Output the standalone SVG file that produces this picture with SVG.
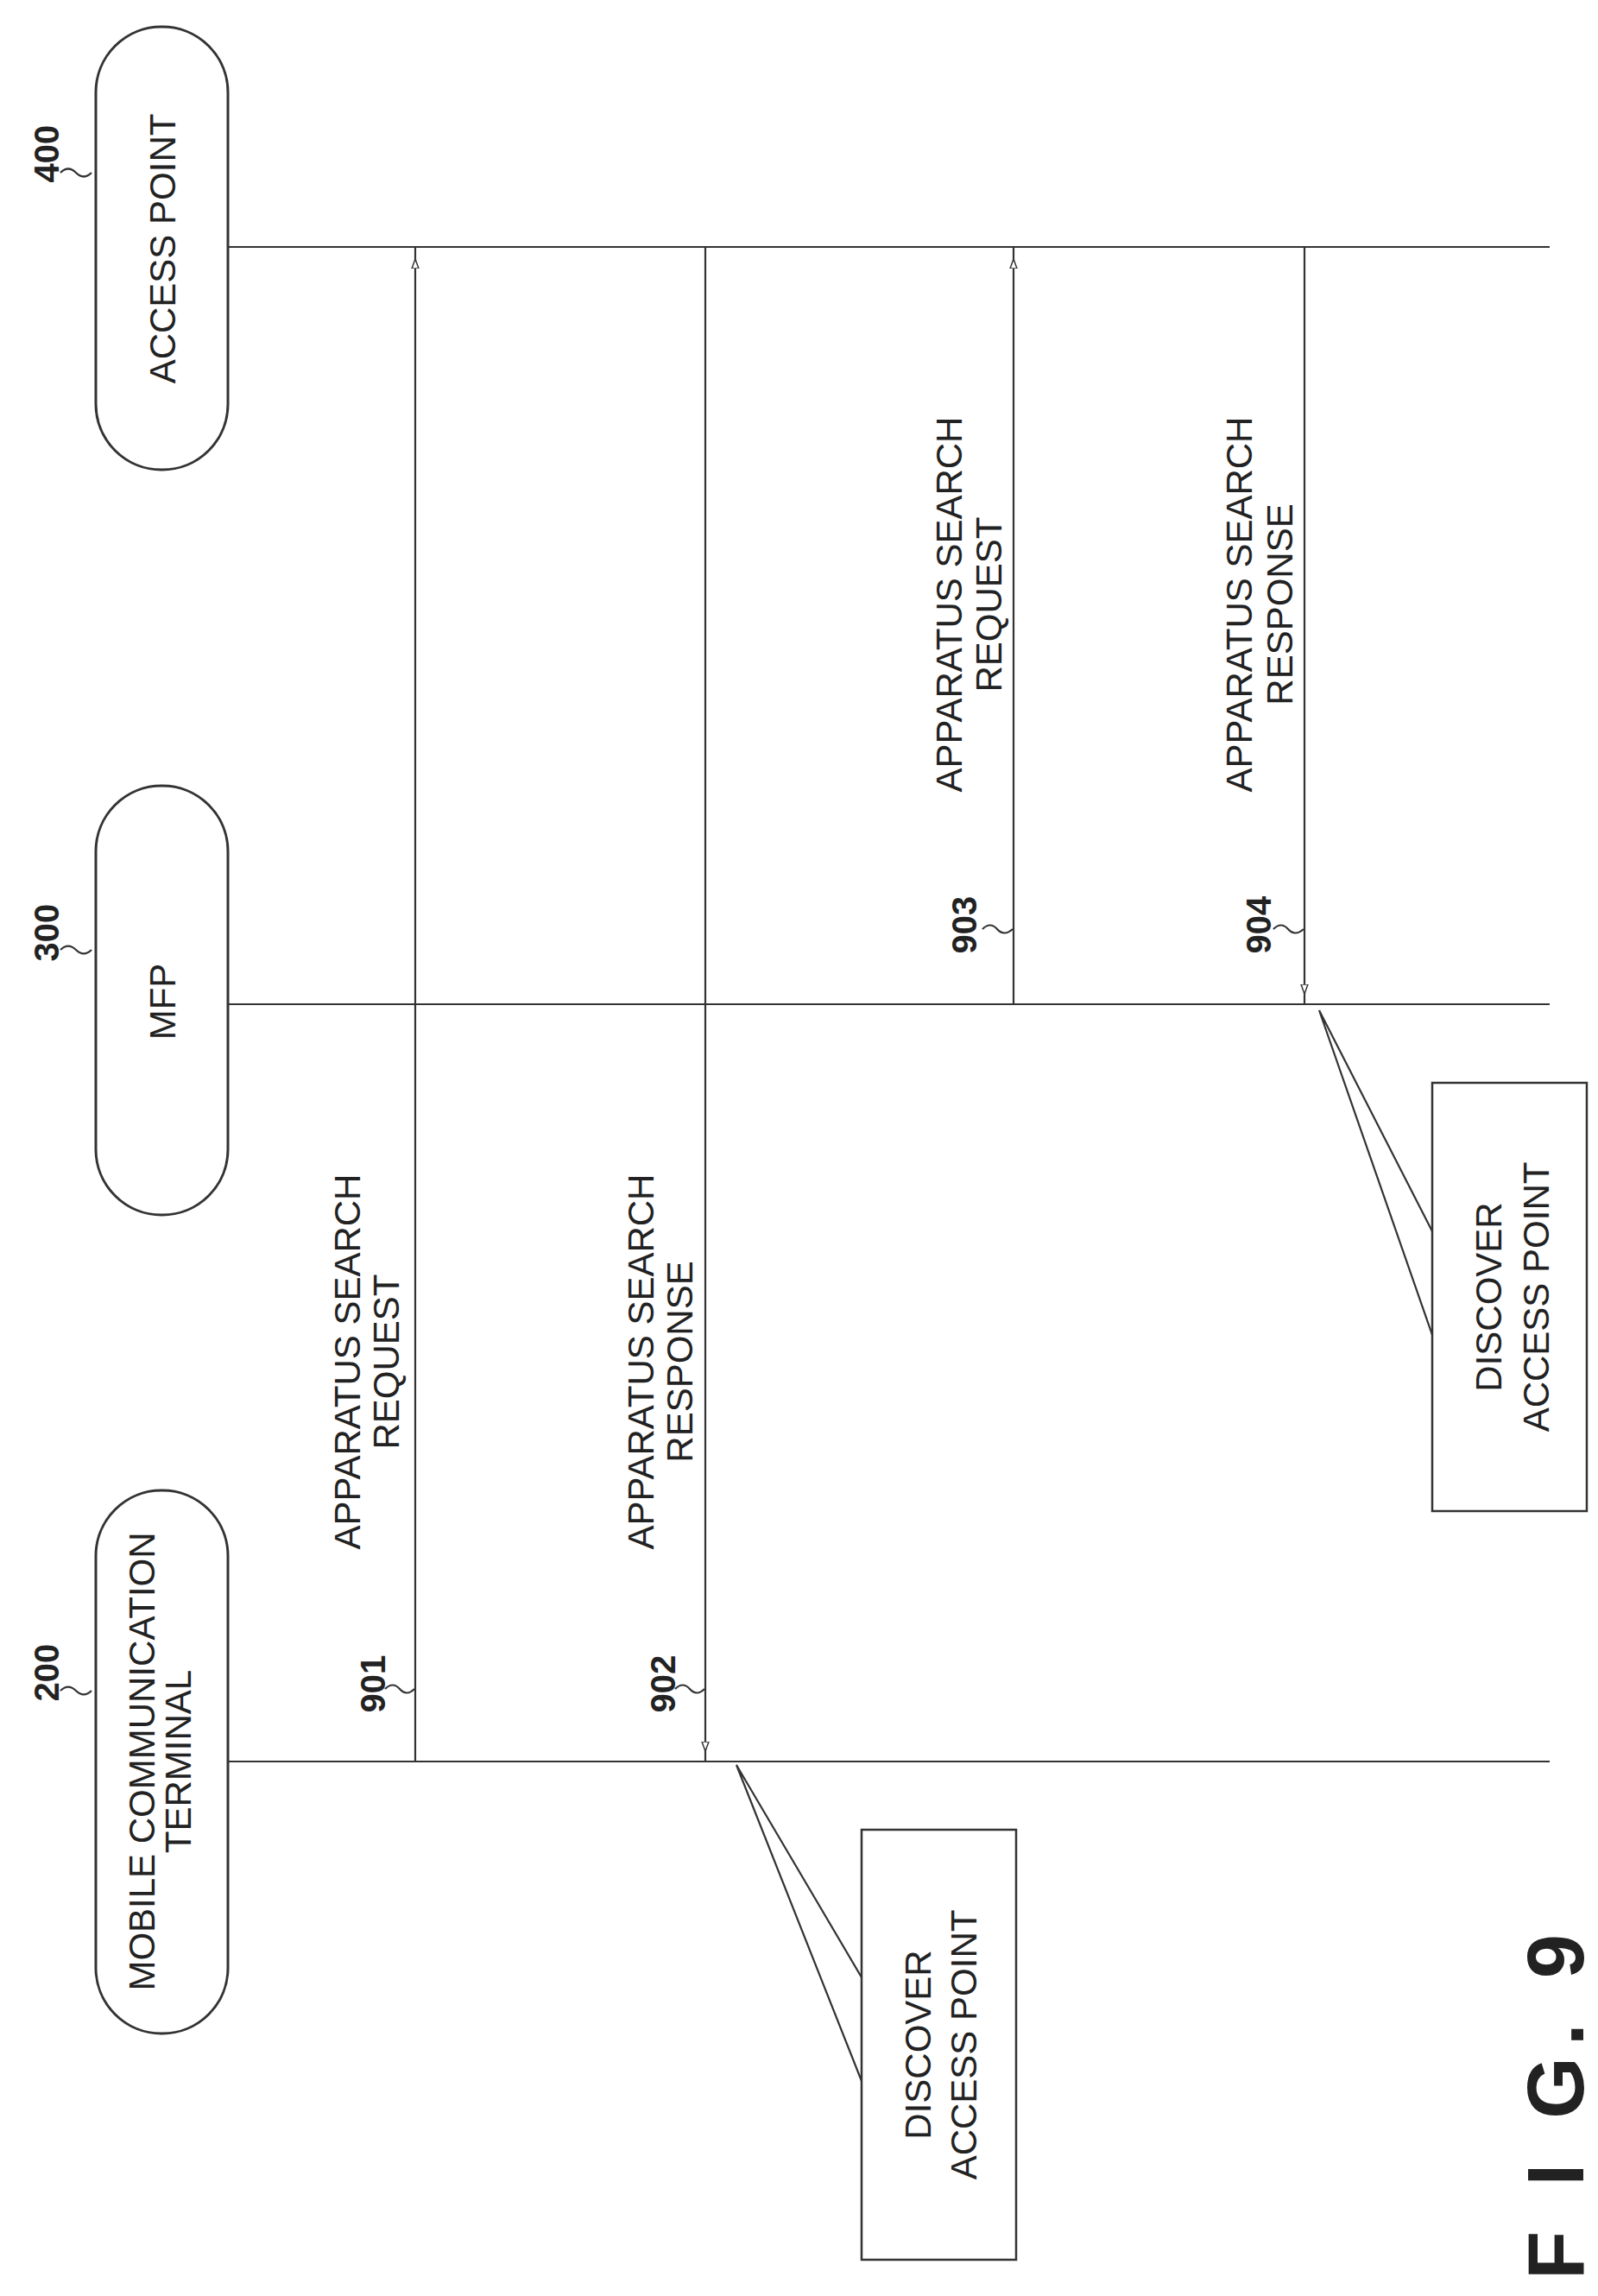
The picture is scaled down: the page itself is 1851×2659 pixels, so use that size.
<svg xmlns="http://www.w3.org/2000/svg" width="1851" height="2659" viewBox="0 0 1851 2659">
<defs>
<style>
.ln{stroke:#333;stroke-width:2.2;fill:none}
.t{font-family:"Liberation Sans",Arial,sans-serif;font-size:42px;fill:#222;text-anchor:middle}
.n{font-family:"Liberation Sans",Arial,sans-serif;font-size:40px;font-weight:bold;fill:#222;text-anchor:middle}
.node{fill:#fff;stroke:#333;stroke-width:3}
.box{fill:#fff;stroke:#333;stroke-width:2.5}
</style>
<marker id="ah" markerWidth="12" markerHeight="10" refX="11" refY="5" orient="auto" markerUnits="userSpaceOnUse">
<path d="M0,1 L11,5 L0,9 Z" fill="#fff" stroke="#333" stroke-width="1.5"/>
</marker>
</defs>
<rect width="1851" height="2659" fill="#fff"/>

<g id="node-400">
<rect class="node" x="111" y="31" width="153" height="513" rx="76" ry="76"/>
<text class="t" transform="translate(203,288) rotate(-90)">ACCESS POINT</text>
<text class="n" transform="translate(68,178) rotate(-90)">400</text>
<path class="ln" d="M70,200 q9,-9 18,0 t18,0"/>
</g>
<g id="node-300">
<rect class="node" x="111" y="910" width="153" height="497" rx="76" ry="76"/>
<text class="t" transform="translate(203,1160) rotate(-90)">MFP</text>
<text class="n" transform="translate(68,1080) rotate(-90)">300</text>
<path class="ln" d="M70,1100 q9,-9 18,0 t18,0"/>
</g>
<g id="node-200">
<rect class="node" x="111" y="1726" width="153" height="629" rx="76" ry="76"/>
<text class="t" transform="translate(179,2040) rotate(-90)">MOBILE COMMUNICATION</text>
<text class="t" transform="translate(221,2040) rotate(-90)">TERMINAL</text>
<text class="n" transform="translate(68,1937) rotate(-90)">200</text>
<path class="ln" d="M70,1958 q9,-9 18,0 t18,0"/>
</g>

<g id="box-mobile">
<rect class="box" x="998" y="2119" width="179" height="498"/>
<text class="t" transform="translate(1078,2368) rotate(-90)">DISCOVER</text>
<text class="t" transform="translate(1131,2368) rotate(-90)">ACCESS POINT</text>
</g>
<g id="box-mfp">
<rect class="box" x="1659" y="1254" width="179" height="496"/>
<text class="t" transform="translate(1739,1502) rotate(-90)">DISCOVER</text>
<text class="t" transform="translate(1794,1502) rotate(-90)">ACCESS POINT</text>
</g>

<g id="connectors">
<line class="ln" x1="264" y1="286" x2="1795" y2="286"/>
<line class="ln" x1="264" y1="1163" x2="1795" y2="1163"/>
<line class="ln" x1="264" y1="2040" x2="1795" y2="2040"/>

<line class="ln" x1="481" y1="2040" x2="481" y2="300" marker-end="url(#ah)"/>
<line class="ln" x1="481" y1="300" x2="481" y2="286"/>
<line class="ln" x1="817" y1="286" x2="817" y2="2028" marker-end="url(#ah)"/>
<line class="ln" x1="817" y1="2028" x2="817" y2="2040"/>
<line class="ln" x1="1174" y1="1163" x2="1174" y2="300" marker-end="url(#ah)"/>
<line class="ln" x1="1174" y1="300" x2="1174" y2="286"/>
<line class="ln" x1="1511" y1="286" x2="1511" y2="1151" marker-end="url(#ah)"/>
<line class="ln" x1="1511" y1="1151" x2="1511" y2="1163"/>

<path class="ln" d="M853,2044 L998,2290 M853,2044 L998,2410"/>
<path class="ln" d="M1528,1170 L1659,1426 M1528,1170 L1659,1546"/>

<path class="ln" d="M446,1956 q9,-9 17,0 t17,0"/>
<path class="ln" d="M782,1956 q9,-9 17,0 t17,0"/>
<path class="ln" d="M1138,1076 q9,-9 17,0 t18,0"/>
<path class="ln" d="M1475,1076 q9,-9 17,0 t18,0"/>
</g>

<g id="labels">
<text class="t" transform="translate(417,1577) rotate(-90)">APPARATUS SEARCH</text>
<text class="t" transform="translate(462,1577) rotate(-90)">REQUEST</text>
<text class="t" transform="translate(757,1577) rotate(-90)">APPARATUS SEARCH</text>
<text class="t" transform="translate(802,1577) rotate(-90)">RESPONSE</text>
<text class="t" transform="translate(1114,700) rotate(-90)">APPARATUS SEARCH</text>
<text class="t" transform="translate(1160,700) rotate(-90)">REQUEST</text>
<text class="t" transform="translate(1450,700) rotate(-90)">APPARATUS SEARCH</text>
<text class="t" transform="translate(1497,700) rotate(-90)">RESPONSE</text>
<text class="n" transform="translate(446,1950) rotate(-90)">901</text>
<text class="n" transform="translate(782,1950) rotate(-90)">902</text>
<text class="n" transform="translate(1131,1071) rotate(-90)">903</text>
<text class="n" transform="translate(1472,1071) rotate(-90)">904</text>
<text transform="translate(1834,2440) rotate(-90)" font-family="Liberation Sans,Arial,sans-serif" font-size="92" font-weight="bold" fill="#222" text-anchor="middle" textLength="400" lengthAdjust="spacing">F I G. 9</text>
</g>
</svg>
